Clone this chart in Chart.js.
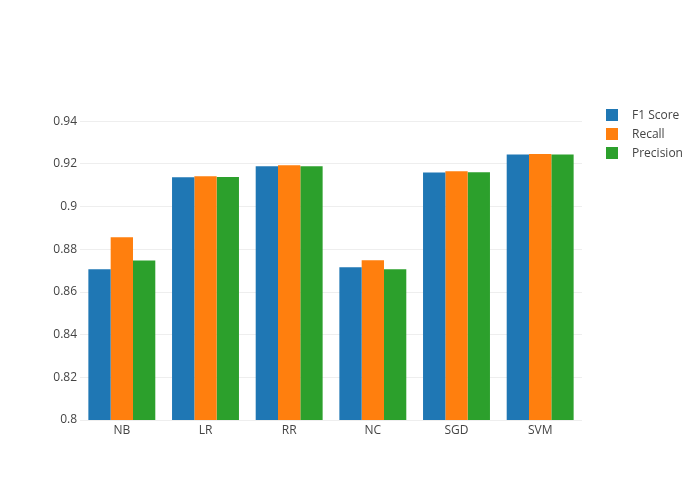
<!DOCTYPE html>
<html>
<head>
<meta charset="utf-8">
<script src="https://cdn.jsdelivr.net/npm/chart.js@4.4.1/dist/chart.umd.min.js"></script>
<style>
    html, body { margin: 0; padding: 0; background: #fff; }
    #wrap { position: relative; width: 700px; height: 500px; }
    #legend { position: absolute; left: 606px; top: 105px; font-family: "Open Sans", sans-serif; font-size: 12px; color: #444; }
    .item { height: 19px; display: flex; align-items: center; }
    .swatch { width: 12px; height: 12px; margin-right: 14px; }
</style>
</head>
<body>
<div id="wrap">
    <canvas id="chart" width="700" height="500"></canvas>
    <div id="legend"></div>
</div>
<script>
const models = ['NB', 'LR', 'RR', 'NC', 'SGD', 'SVM'];
const f1Score = [0.8707, 0.9138, 0.9189, 0.8716, 0.9160, 0.9244];
const recall = [0.8857, 0.9143, 0.9194, 0.8749, 0.9166, 0.9247];
const precision = [0.8748, 0.9139, 0.9190, 0.8707, 0.9161, 0.9244];
const yTicks = [0.8, 0.82, 0.84, 0.86, 0.88, 0.9, 0.92, 0.94];

const seriesNames = ['F1 Score', 'Recall', 'Precision'];
const seriesColors = ['#1f77b4', '#ff7f0e', '#2ca02c'];
const seriesData = [f1Score, recall, precision];

Chart.defaults.font.family = '"Open Sans", sans-serif';
Chart.defaults.font.size = 12;
Chart.defaults.color = '#444';

const datasets = seriesNames.map((name, i) => ({
    label: name,
    data: seriesData[i],
    backgroundColor: seriesColors[i],
    borderWidth: 0,
    barPercentage: 1,
    categoryPercentage: 0.8
}));

new Chart(document.getElementById('chart'), {
    type: 'bar',
    data: { labels: models, datasets: datasets },
    options: {
        responsive: false,
        animation: false,
        layout: { padding: { top: 100, right: 118, left: 0, bottom: 0 } },
        plugins: {
            legend: { display: false },
            tooltip: { enabled: false }
        },
        scales: {
            x: {
                grid: { display: false, drawTicks: false },
                border: { display: false },
                ticks: { padding: 3 },
                afterFit: scale => { scale.height = 80; }
            },
            y: {
                min: 0.8,
                max: 0.95,
                grid: { color: '#eee', drawTicks: false },
                border: { display: false },
                ticks: {
                    padding: 3,
                    callback: v => String(Math.round(v * 100) / 100)
                },
                afterBuildTicks: scale => {
                    scale.ticks = yTicks.map(v => ({ value: v }));
                },
                afterFit: scale => { scale.width = 80; }
            }
        }
    }
});

// legend drawn as html to the right of the plot
const legend = document.getElementById('legend');
seriesNames.forEach((name, i) => {
    const item = document.createElement('div');
    item.className = 'item';
    const sw = document.createElement('div');
    sw.className = 'swatch';
    sw.style.background = seriesColors[i];
    item.appendChild(sw);
    item.appendChild(document.createTextNode(name));
    legend.appendChild(item);
});
</script>
</body>
</html>
